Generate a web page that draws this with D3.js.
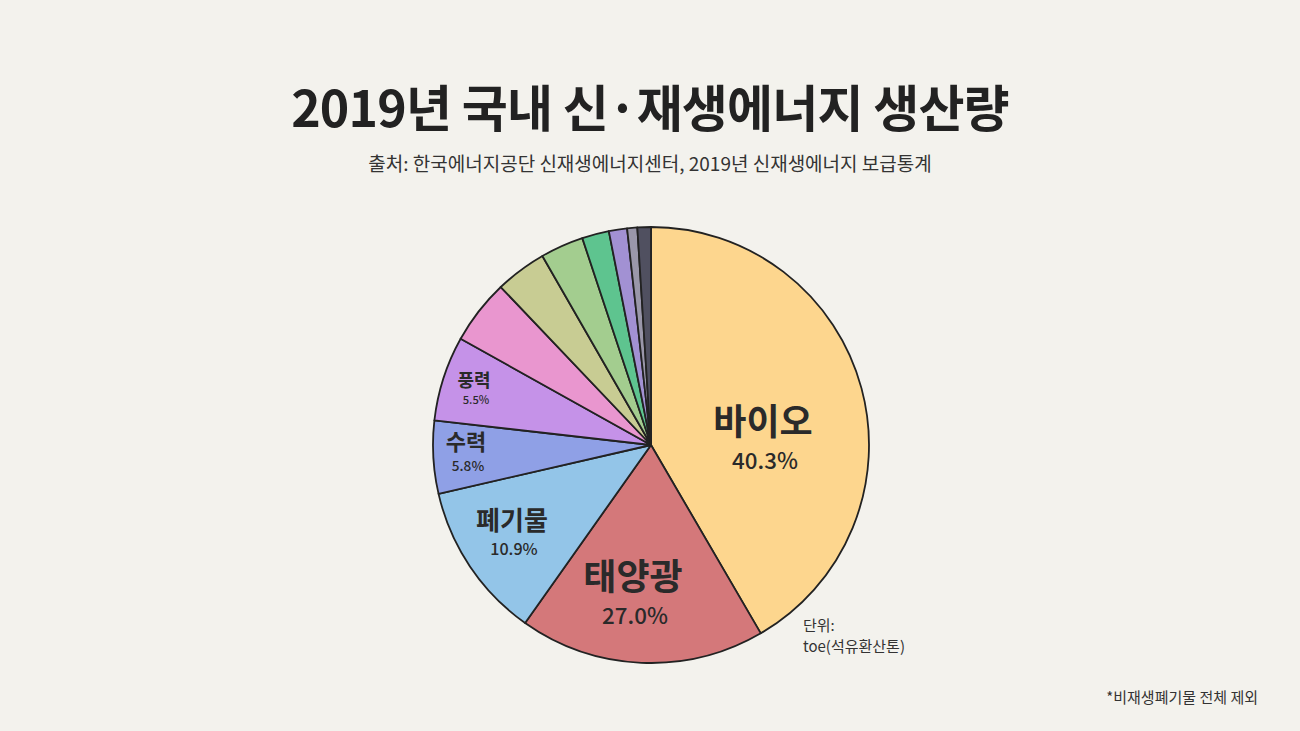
<!DOCTYPE html>
<html><head><meta charset="utf-8">
<script src="https://cdn.jsdelivr.net/npm/d3@7"></script>
<style>
body{margin:0;background:#f3f2ed;}
svg{display:block;font-family:"Noto Sans CJK KR","Noto Sans",sans-serif;}
</style></head>
<body><svg id="chart" width="1300" height="731"></svg>
<script>
// slice shares as drawn in the picture (clockwise from top)
const sources = ['바이오','태양광','폐기물','수력','풍력','기타1','기타2','기타3','기타4','기타5','기타6','기타7'];
const shares = [41.6,18.2,11.6,5.4,6.3,4.8,3.8,3.2,2.0,1.35,0.75,1.0];
const colors = ['#fdd68e','#d4787a','#93c5e8','#8fa0e6','#c592e8','#e996cf','#c8cc93','#a3cd8f','#5ec48f','#a291d3','#9a97aa','#505060'];
// printed percentage labels
const labelText = ['40.3%','27.0%','10.9%','5.8%','5.5%'];
const labelSize = [36,36,26,22,18];
const labelPos = [[763,435],[633,590],[512,530],[466,450],[474,387]];

const svg = d3.select('#chart');
const cx = 651, cy = 445, r = 218;

svg.append('text').attr('x',650).attr('y',127).attr('text-anchor','middle')
  .attr('font-size',50).attr('font-weight',700).attr('fill','#222').attr('letter-spacing',-0.8)
  .text('2019년 국내 신·재생에너지 생산량');
svg.append('text').attr('x',650).attr('y',171).attr('text-anchor','middle')
  .attr('font-size',19).attr('fill','#333')
  .text('출처: 한국에너지공단 신재생에너지센터, 2019년 신재생에너지 보급통계');

const pie = d3.pie().sort(null).value(d => d);
const arc = d3.arc().innerRadius(0).outerRadius(r);
const g = svg.append('g').attr('transform',`translate(${cx},${cy})`);
g.selectAll('path').data(pie(shares)).join('path')
  .attr('d',arc).attr('fill',(d,i)=>colors[i])
  .attr('stroke','#222').attr('stroke-width',1.8).attr('stroke-linejoin','round');

labelText.forEach((t,i) => {
  const [x,y] = labelPos[i];
  svg.append('text').attr('x',x).attr('y',y).attr('text-anchor','middle')
    .attr('font-size',labelSize[i]).attr('font-weight',700).attr('fill','#2a2a2a').text(sources[i]);
  svg.append('text').attr('x',x+2).attr('y',y+labelSize[i]*0.95).attr('text-anchor','middle')
    .attr('font-size',labelSize[i]*0.62).attr('font-weight',500).attr('fill','#2a2a2a').text(t);
});

svg.append('text').attr('x',803).attr('y',631).attr('font-size',15).attr('fill','#333').text('단위:');
svg.append('text').attr('x',803).attr('y',652).attr('font-size',15).attr('fill','#333').text('toe(석유환산톤)');
svg.append('text').attr('x',1258).attr('y',703).attr('text-anchor','end').attr('font-size',15).attr('fill','#333').text('*비재생폐기물 전체 제외');
</script></body></html>
